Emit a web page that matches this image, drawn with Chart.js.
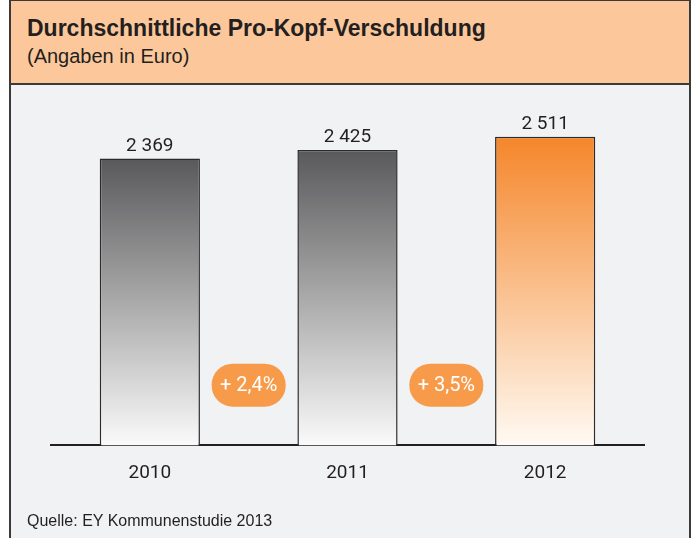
<!DOCTYPE html>
<html lang="de">
<head>
    <meta charset="UTF-8">
    <title>Durchschnittliche Pro-Kopf-Verschuldung</title>
    <script src="https://cdn.jsdelivr.net/npm/chart.js"></script>
    <style>
        body {
            margin: 0;
            background: #ffffff;
            font-family: 'Liberation Sans', Arial, sans-serif;
        }
        .frame {
            position: absolute;
            left: 9px;
            top: 0;
            width: 678px;
            height: 540px;
            background: #f1f2f4;
            border-left: 2px solid #3a3a3a;
            border-right: 2px solid #3a3a3a;
            border-top: 1px solid #3a3a3a;
        }
        .header {
            position: absolute;
            left: 0;
            top: 0;
            width: 678px;
            height: 82px;
            background: #fcc89b;
            border-bottom: 2px solid #3a3a3a;
        }
        .title {
            position: absolute;
            left: 16px;
            top: 14px;
            font-weight: bold;
            font-size: 23px;
            color: #231f20;
        }
        .subtitle {
            position: absolute;
            left: 16px;
            top: 44px;
            font-size: 20px;
            color: #231f20;
        }
        .source {
            position: absolute;
            left: 16px;
            top: 511px;
            font-size: 16px;
            color: #231f20;
        }
        #chart {
            position: absolute;
            left: 0;
            top: 84px;
        }
    </style>
</head>
<body>
    <div class="frame">
        <div class="header">
            <div class="title">Durchschnittliche Pro-Kopf-Verschuldung</div>
            <div class="subtitle">(Angaben in Euro)</div>
        </div>
        <canvas id="chart" width="678" height="453"></canvas>
        <div class="source">Quelle: EY Kommunenstudie 2013</div>
    </div>

    <script>
        const years = ['2010', '2011', '2012'];
        const debtPerHead = [2369, 2425, 2511];
        const changes = ['+ 2,4%', '+ 3,5%'];

        const greyStops = ['#59595b', '#fafafa'];
        const orangeStops = ['#f5862a', '#fffaf3'];

        function barGradient(context) {
            const chart = context.chart;
            const area = chart.chartArea;
            if (!area) return greyStops[0];
            const i = context.dataIndex;
            const top = chart.scales.y.getPixelForValue(debtPerHead[i]);
            const stops = i === debtPerHead.length - 1 ? orangeStops : greyStops;
            const g = chart.ctx.createLinearGradient(0, top, 0, area.bottom);
            g.addColorStop(0, stops[0]);
            g.addColorStop(1, stops[1]);
            return g;
        }

        function fmt(v) {
            return String(v).replace(/\B(?=(\d{3})+(?!\d))/g, ' ');
        }

        // value labels over the bars and the change badges between them
        const labelsPlugin = {
            id: 'labels',
            afterDatasetsDraw(chart) {
                const ctx = chart.ctx;
                const meta = chart.getDatasetMeta(0);
                const x = chart.scales.x;
                const base = chart.chartArea.bottom;
                ctx.save();
                ctx.fillStyle = '#231f20';
                ctx.font = '19px Roboto';
                ctx.textAlign = 'center';
                ctx.textBaseline = 'alphabetic';
                meta.data.forEach((bar, i) => {
                    ctx.fillText(fmt(debtPerHead[i]), bar.x, bar.y - 8);
                });

                changes.forEach((txt, i) => {
                    const cx = (x.getPixelForValue(i) + x.getPixelForValue(i + 1)) / 2;
                    const cy = base - 60;
                    const w = 74, h = 43;
                    ctx.beginPath();
                    ctx.roundRect(cx - w / 2, cy - h / 2, w, h, 21);
                    ctx.fillStyle = '#f79a4a';
                    ctx.fill();
                    ctx.fillStyle = '#ffffff';
                    ctx.font = '20px Roboto';
                    ctx.textBaseline = 'middle';
                    ctx.fillText(txt, cx, cy + 1);
                });
                ctx.restore();
            }
        };

        new Chart(document.getElementById('chart'), {
            type: 'bar',
            data: {
                labels: years,
                datasets: [{
                    data: debtPerHead,
                    backgroundColor: barGradient,
                    borderColor: '#2b2b2b',
                    borderWidth: 1.5,
                    barPercentage: 1,
                    categoryPercentage: 0.507
                }]
            },
            options: {
                responsive: false,
                animation: false,
                layout: {
                    padding: { left: 40, right: 45, top: 7.5, bottom: 36 }
                },
                plugins: {
                    legend: { display: false },
                    tooltip: { enabled: false }
                },
                scales: {
                    y: {
                        display: false,
                        min: 500,
                        max: 2800
                    },
                    x: {
                        grid: { display: false, drawTicks: false },
                        border: { display: true, color: '#231f20', width: 2 },
                        ticks: {
                            color: '#231f20',
                            padding: 17,
                            font: { family: 'Roboto', size: 19 }
                        }
                    }
                }
            },
            plugins: [labelsPlugin]
        });
    </script>
</body>
</html>
